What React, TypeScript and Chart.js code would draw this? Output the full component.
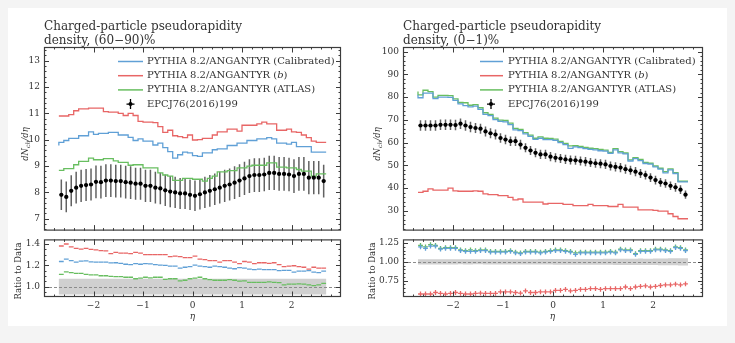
import React, { useEffect, useRef } from 'react';
import { Chart, registerables } from 'chart.js';

Chart.register(...registerables);

// ---------- data ----------
const EDGES = [-2.7, -2.6, -2.5, -2.4, -2.3, -2.2, -2.1, -2.0, -1.9, -1.8, -1.7, -1.6, -1.5, -1.4, -1.3, -1.2, -1.1, -1.0, -0.9, -0.8, -0.7, -0.6, -0.5, -0.4, -0.3, -0.2, -0.1, 0, 0.1, 0.2, 0.3, 0.4, 0.5, 0.6, 0.7, 0.8, 0.9, 1.0, 1.1, 1.2, 1.3, 1.4, 1.5, 1.6, 1.7, 1.8, 1.9, 2.0, 2.1, 2.2, 2.3, 2.4, 2.5, 2.6, 2.7];

const X_TICKS = [-2, -1, 0, 1, 2];
const X_TICK_LABELS = ['\u22122', '\u22121', '0', '1', '2'];

// left: (60-90)%
const L_CALIB = [9.78, 9.90, 9.97, 10.05, 10.05, 10.15, 10.15, 10.30, 10.20, 10.24, 10.24, 10.28, 10.28, 10.18, 10.18, 10.09, 9.97, 10.03, 9.95, 9.95, 9.80, 9.87, 9.70, 9.55, 9.30, 9.43, 9.53, 9.50, 9.40, 9.37, 9.50, 9.50, 9.62, 9.65, 9.65, 9.78, 9.78, 9.87, 9.87, 9.97, 9.97, 10.03, 10.03, 10.08, 10.03, 9.87, 9.87, 9.83, 9.90, 9.74, 9.74, 9.74, 9.53, 9.53];
const L_B = [10.90, 10.90, 10.90, 10.95, 11.10, 11.17, 11.17, 11.20, 11.20, 11.20, 11.07, 11.05, 11.05, 11.00, 10.92, 11.00, 10.92, 10.70, 10.67, 10.67, 10.65, 10.50, 10.28, 10.36, 10.15, 10.12, 10.08, 10.18, 9.99, 10.00, 10.05, 10.05, 10.18, 10.30, 10.30, 10.40, 10.40, 10.33, 10.55, 10.55, 10.55, 10.60, 10.67, 10.60, 10.60, 10.36, 10.36, 10.40, 10.30, 10.28, 10.18, 10.08, 9.95, 9.90];
const L_ATLAS = [8.84, 8.84, 8.90, 8.90, 9.05, 9.18, 9.18, 9.30, 9.24, 9.24, 9.28, 9.28, 9.20, 9.14, 9.14, 9.03, 9.05, 9.05, 8.93, 8.93, 8.93, 8.74, 8.66, 8.62, 8.46, 8.46, 8.53, 8.53, 8.50, 8.50, 8.43, 8.53, 8.62, 8.78, 8.78, 8.83, 8.83, 8.93, 8.93, 9.00, 9.03, 9.03, 9.03, 9.12, 9.12, 8.96, 8.96, 8.93, 8.93, 8.87, 8.81, 8.81, 8.62, 8.70];
const L_DATA = [7.91, 7.83, 8.06, 8.18, 8.25, 8.28, 8.30, 8.40, 8.39, 8.45, 8.45, 8.43, 8.43, 8.39, 8.37, 8.33, 8.33, 8.25, 8.25, 8.18, 8.15, 8.08, 8.03, 8.00, 7.96, 7.96, 7.91, 7.87, 7.93, 8.00, 8.06, 8.12, 8.18, 8.25, 8.30, 8.37, 8.45, 8.53, 8.62, 8.66, 8.66, 8.68, 8.74, 8.74, 8.70, 8.70, 8.68, 8.62, 8.70, 8.70, 8.56, 8.56, 8.56, 8.43];
const L_ERR = [0.58, 0.58, 0.59, 0.60, 0.61, 0.61, 0.61, 0.62, 0.62, 0.62, 0.62, 0.62, 0.62, 0.62, 0.62, 0.61, 0.61, 0.61, 0.61, 0.60, 0.60, 0.60, 0.59, 0.59, 0.59, 0.59, 0.58, 0.58, 0.58, 0.59, 0.60, 0.60, 0.60, 0.61, 0.61, 0.62, 0.62, 0.63, 0.64, 0.64, 0.64, 0.64, 0.65, 0.65, 0.64, 0.64, 0.64, 0.64, 0.64, 0.64, 0.63, 0.63, 0.63, 0.62];
const L_R_CALIB = [1.236, 1.259, 1.244, 1.23, 1.239, 1.241, 1.233, 1.23, 1.23, 1.23, 1.222, 1.224, 1.219, 1.21, 1.207, 1.216, 1.21, 1.216, 1.213, 1.207, 1.202, 1.199, 1.193, 1.193, 1.173, 1.182, 1.188, 1.202, 1.193, 1.188, 1.182, 1.193, 1.188, 1.182, 1.173, 1.168, 1.179, 1.173, 1.165, 1.159, 1.165, 1.159, 1.159, 1.159, 1.151, 1.153, 1.153, 1.136, 1.145, 1.145, 1.151, 1.136, 1.131, 1.145];
const L_R_B = [1.381, 1.40, 1.372, 1.358, 1.352, 1.358, 1.349, 1.344, 1.338, 1.335, 1.31, 1.321, 1.315, 1.315, 1.31, 1.321, 1.315, 1.30, 1.30, 1.30, 1.30, 1.30, 1.281, 1.287, 1.281, 1.273, 1.273, 1.287, 1.259, 1.253, 1.244, 1.244, 1.23, 1.244, 1.244, 1.23, 1.216, 1.236, 1.23, 1.216, 1.224, 1.224, 1.219, 1.224, 1.207, 1.188, 1.193, 1.196, 1.188, 1.182, 1.165, 1.182, 1.173, 1.173];
const L_R_ATLAS = [1.116, 1.139, 1.131, 1.125, 1.125, 1.116, 1.111, 1.111, 1.102, 1.102, 1.097, 1.094, 1.094, 1.088, 1.088, 1.074, 1.08, 1.088, 1.082, 1.088, 1.088, 1.068, 1.074, 1.074, 1.054, 1.06, 1.074, 1.08, 1.088, 1.074, 1.065, 1.06, 1.06, 1.06, 1.065, 1.06, 1.051, 1.054, 1.04, 1.04, 1.04, 1.04, 1.045, 1.04, 1.037, 1.017, 1.023, 1.023, 1.026, 1.023, 1.017, 1.009, 1.017, 1.031];

// right: (0-1)%
const R_CALIB = [81.0, 79.7, 81.7, 81.7, 79.3, 80.0, 80.0, 79.9, 78.5, 77.0, 76.2, 75.7, 76.0, 74.6, 72.4, 71.8, 70.1, 69.3, 69.1, 67.9, 65.6, 65.2, 63.8, 62.7, 61.4, 61.9, 61.3, 61.3, 61.0, 60.0, 59.1, 57.4, 58.1, 57.8, 57.3, 57.0, 56.8, 56.4, 56.2, 55.2, 56.8, 55.5, 55.0, 51.9, 52.9, 52.1, 50.8, 50.5, 49.3, 48.3, 46.7, 48.0, 46.4, 42.7];
const R_B = [38.1, 38.1, 38.6, 39.6, 39.1, 39.1, 39.1, 40.0, 38.8, 38.6, 38.6, 38.6, 38.8, 38.6, 37.4, 37.1, 37.1, 36.7, 36.7, 35.9, 34.8, 35.2, 33.8, 33.8, 33.8, 33.8, 33.0, 33.3, 33.3, 33.3, 32.8, 32.8, 32.3, 32.3, 32.3, 32.8, 32.3, 32.3, 32.3, 31.9, 31.9, 32.8, 31.6, 31.6, 31.6, 30.4, 30.4, 30.4, 30.2, 29.9, 29.9, 28.7, 27.5, 26.5];
const R_ATLAS = [82.4, 81.0, 83.0, 82.4, 80.0, 80.7, 80.7, 80.6, 79.2, 77.6, 77.5, 76.4, 76.7, 75.3, 73.1, 72.4, 70.7, 69.9, 69.7, 68.5, 66.2, 65.8, 64.4, 63.3, 61.9, 62.5, 61.9, 61.8, 61.5, 60.5, 59.6, 58.5, 58.6, 58.3, 57.9, 57.5, 57.3, 57.0, 56.7, 55.7, 57.3, 56.0, 55.4, 52.4, 53.4, 52.6, 51.3, 50.9, 49.7, 48.7, 47.2, 48.4, 46.8, 43.0];
const R_DATA = [67.5, 67.5, 67.5, 67.5, 67.8, 67.8, 67.8, 67.7, 68.3, 67.5, 66.8, 66.4, 66.1, 64.9, 64.1, 63.5, 62.0, 61.3, 60.6, 60.6, 59.1, 57.7, 56.5, 55.5, 54.8, 54.8, 53.8, 53.3, 53.0, 52.6, 52.3, 52.2, 51.9, 51.6, 51.2, 50.9, 50.7, 50.4, 49.7, 49.3, 49.0, 48.3, 47.8, 47.2, 46.4, 45.7, 44.6, 43.5, 42.5, 42.0, 41.0, 40.3, 39.3, 37.1];
const R_ERR = [2.3, 2.3, 2.3, 2.3, 2.3, 2.3, 2.3, 2.3, 2.3, 2.3, 2.3, 2.2, 2.2, 2.2, 2.2, 2.2, 2.1, 2.1, 2.1, 2.1, 2.1, 2.0, 2.0, 2.0, 2.0, 2.0, 2.0, 2.0, 2.0, 2.0, 2.0, 2.0, 2.0, 2.0, 2.0, 2.0, 2.0, 2.0, 2.0, 2.0, 2.0, 2.0, 2.0, 2.0, 2.0, 1.9, 1.9, 1.9, 1.9, 1.9, 1.9, 1.9, 1.9, 1.8];
const R_R_CALIB = [1.20, 1.18, 1.21, 1.21, 1.17, 1.18, 1.18, 1.18, 1.15, 1.14, 1.14, 1.14, 1.15, 1.15, 1.13, 1.13, 1.13, 1.13, 1.14, 1.12, 1.11, 1.13, 1.13, 1.13, 1.12, 1.13, 1.14, 1.15, 1.15, 1.14, 1.13, 1.10, 1.12, 1.12, 1.12, 1.12, 1.12, 1.12, 1.13, 1.12, 1.16, 1.15, 1.15, 1.10, 1.14, 1.14, 1.14, 1.16, 1.16, 1.15, 1.14, 1.19, 1.18, 1.15];
const R_R_B = [0.570, 0.570, 0.570, 0.590, 0.578, 0.570, 0.578, 0.590, 0.578, 0.570, 0.570, 0.578, 0.582, 0.578, 0.578, 0.578, 0.598, 0.598, 0.598, 0.590, 0.582, 0.611, 0.590, 0.590, 0.598, 0.598, 0.598, 0.619, 0.619, 0.631, 0.611, 0.619, 0.631, 0.631, 0.643, 0.643, 0.631, 0.643, 0.643, 0.643, 0.643, 0.664, 0.643, 0.664, 0.672, 0.680, 0.664, 0.672, 0.684, 0.693, 0.693, 0.701, 0.693, 0.705];
const R_R_ATLAS = [1.22, 1.20, 1.23, 1.22, 1.18, 1.19, 1.19, 1.19, 1.16, 1.15, 1.16, 1.15, 1.16, 1.16, 1.14, 1.14, 1.14, 1.14, 1.15, 1.13, 1.12, 1.14, 1.14, 1.14, 1.13, 1.14, 1.15, 1.16, 1.16, 1.15, 1.14, 1.12, 1.13, 1.13, 1.13, 1.13, 1.13, 1.13, 1.14, 1.13, 1.17, 1.16, 1.16, 1.11, 1.15, 1.15, 1.15, 1.17, 1.17, 1.16, 1.15, 1.20, 1.19, 1.16];

const L_Y_TICKS = [7, 8, 9, 10, 11, 12, 13];
const L_Y_TICK_LABELS = ['7', '8', '9', '10', '11', '12', '13'];
const L_RY_TICKS = [1.0, 1.2, 1.4];
const L_RY_TICK_LABELS = ['1.0', '1.2', '1.4'];
const R_Y_TICKS = [30, 40, 50, 60, 70, 80, 90, 100];
const R_Y_TICK_LABELS = ['30', '40', '50', '60', '70', '80', '90', '100'];
const R_RY_TICKS = [0.75, 1.0, 1.25];
const R_RY_TICK_LABELS = ['0.75', '1.00', '1.25'];

const TITLE_L = ['Charged-particle pseudorapidity', 'density, (60\u221290)%'];
const TITLE_R = ['Charged-particle pseudorapidity', 'density, (0\u22121)%'];
const LEG_MODEL = 'PYTHIA 8.2/ANGANTYR';
const LEG_DATA = 'EPCJ76(2016)199';

// ---------- styles ----------
const SERIF = '"DejaVu Serif", serif';
const TXT = '#333333';
const FRAME = '#3c3c3c';
const C_CALIB = 'rgb(96,160,214)';
const C_B = 'rgb(232,102,102)';
const C_ATLAS = 'rgb(104,190,96)';

type Seg = { t: string; it?: boolean; sub?: boolean };

function drawSegs(ctx: CanvasRenderingContext2D, segs: Seg[], x: number, y: number, size: number, align: string, family = SERIF) {
  let w = 0;
  const parts = segs.map((s) => {
    const fs = s.sub ? size * 0.72 : size;
    const font = `${s.it ? 'italic ' : ''}${fs}px ${family}`;
    ctx.font = font;
    const mw = ctx.measureText(s.t).width;
    w += mw;
    return { s, font, mw };
  });
  let cx = align === 'center' ? x - w / 2 : align === 'right' ? x - w : x;
  ctx.textAlign = 'left';
  ctx.textBaseline = 'middle';
  for (const p of parts) {
    ctx.font = p.font;
    ctx.fillText(p.s.t, cx, y + (p.s.sub ? size * 0.28 : 0));
    cx += p.mw;
  }
}

function steps(a: number, b: number, n: number) {
  const out: number[] = [];
  for (let i = 0; i <= n; i++) out.push(a + ((b - a) * i) / n);
  return out;
}

const decorPlugin: any = {
  id: 'decor',
  beforeDatasetsDraw(chart: any, _a: any, o: any) {
    const { ctx, chartArea: a } = chart;
    const xs = chart.scales.x;
    const ys = chart.scales.y;
    ctx.save();
    ctx.beginPath();
    ctx.rect(a.left, a.top, a.right - a.left, a.bottom - a.top);
    ctx.clip();
    if (o.band) {
      const { lo, hi, color } = o.band;
      ctx.beginPath();
      for (let i = 0; i < hi.length; i++) {
        const x0 = xs.getPixelForValue(EDGES[i]);
        const x1 = xs.getPixelForValue(EDGES[i + 1]);
        const y = ys.getPixelForValue(hi[i]);
        if (i === 0) ctx.moveTo(x0, y);
        else ctx.lineTo(x0, y);
        ctx.lineTo(x1, y);
      }
      for (let i = lo.length - 1; i >= 0; i--) {
        const x0 = xs.getPixelForValue(EDGES[i]);
        const x1 = xs.getPixelForValue(EDGES[i + 1]);
        const y = ys.getPixelForValue(lo[i]);
        ctx.lineTo(x1, y);
        ctx.lineTo(x0, y);
      }
      ctx.closePath();
      ctx.fillStyle = color;
      ctx.fill();
    }
    if (o.refLine != null) {
      const y = Math.round(ys.getPixelForValue(o.refLine)) + 0.5;
      ctx.setLineDash([3, 2]);
      ctx.strokeStyle = '#8c8c8c';
      ctx.lineWidth = 1;
      ctx.beginPath();
      ctx.moveTo(a.left, y);
      ctx.lineTo(a.right, y);
      ctx.stroke();
      ctx.setLineDash([]);
    }
    if (o.errors) {
      const { vals, err, color, width } = o.errors;
      ctx.strokeStyle = color;
      ctx.lineWidth = width;
      ctx.beginPath();
      for (let i = 0; i < vals.length; i++) {
        const x0 = xs.getPixelForValue(EDGES[i]);
        const x1 = xs.getPixelForValue(EDGES[i + 1]);
        const xc = (x0 + x1) / 2;
        ctx.moveTo(xc, ys.getPixelForValue(vals[i] - err[i]));
        ctx.lineTo(xc, ys.getPixelForValue(vals[i] + err[i]));
        const y = ys.getPixelForValue(vals[i]);
        ctx.moveTo(x0 + 0.6, y);
        ctx.lineTo(x1 - 0.6, y);
      }
      ctx.stroke();
    }
    ctx.restore();
  },
  afterDraw(chart: any, _a: any, o: any) {
    const { ctx, chartArea: a } = chart;
    const xs = chart.scales.x;
    const ys = chart.scales.y;
    ctx.save();
    // ticks (inward, all four sides)
    ctx.strokeStyle = FRAME;
    ctx.lineWidth = 1;
    ctx.beginPath();
    const vt = (v: number, len: number) => {
      const x = Math.round(xs.getPixelForValue(v)) + 0.5;
      if (x < a.left + 1 || x > a.right - 1) return;
      ctx.moveTo(x, a.top);
      ctx.lineTo(x, a.top + len);
      ctx.moveTo(x, a.bottom);
      ctx.lineTo(x, a.bottom - len);
    };
    const ht = (v: number, len: number) => {
      const y = Math.round(ys.getPixelForValue(v)) + 0.5;
      if (y < a.top + 1 || y > a.bottom - 1) return;
      ctx.moveTo(a.left, y);
      ctx.lineTo(a.left + len, y);
      ctx.moveTo(a.right, y);
      ctx.lineTo(a.right - len, y);
    };
    o.xMinor.forEach((v: number) => vt(v, 2.5));
    o.xMajor.forEach((v: number) => vt(v, 5.5));
    o.yMinor.forEach((v: number) => ht(v, 2.5));
    o.yMajor.forEach((v: number) => ht(v, 5));
    ctx.stroke();
    // frame
    ctx.lineWidth = 1.2;
    ctx.strokeRect(a.left + 0.5, a.top + 0.5, a.right - a.left - 1, a.bottom - a.top - 1);
    // texts
    ctx.fillStyle = TXT;
    (o.texts || []).forEach((t: any) => {
      ctx.save();
      ctx.translate(t.x, t.y);
      if (t.rot) ctx.rotate(-Math.PI / 2);
      drawSegs(ctx, t.segs, 0, 0, t.size, t.align || 'left', t.family || SERIF);
      ctx.restore();
    });
    // legend
    if (o.legend) {
      const L = o.legend;
      L.items.forEach((it: any, k: number) => {
        const y = L.y0 + L.dy * k;
        if (it.kind === 'line') {
          ctx.strokeStyle = it.color;
          ctx.lineWidth = 1.5;
          ctx.beginPath();
          ctx.moveTo(L.lineX0, y);
          ctx.lineTo(L.lineX1, y);
          ctx.stroke();
        } else {
          ctx.strokeStyle = '#000';
          ctx.lineWidth = 1.3;
          ctx.beginPath();
          ctx.moveTo(L.markX, y - 5);
          ctx.lineTo(L.markX, y + 5);
          ctx.moveTo(L.markX - 4, y);
          ctx.lineTo(L.markX + 4, y);
          ctx.stroke();
          ctx.fillStyle = '#000';
          ctx.beginPath();
          ctx.arc(L.markX, y, 2, 0, Math.PI * 2);
          ctx.fill();
        }
        ctx.fillStyle = TXT;
        drawSegs(ctx, it.segs, L.textX, y, L.size, 'left');
      });
    }
    ctx.restore();
  },
};

const histData = (vals: number[]) => EDGES.map((x, i) => ({ x, y: vals[Math.min(i, vals.length - 1)] }));
const pointData = (vals: number[]) => vals.map((y, i) => ({ x: (EDGES[i] + EDGES[i + 1]) / 2, y }));

function mainConfig(o: any) {
  const datasets: any[] = [
    {
      data: pointData(o.data),
      showLine: false,
      pointRadius: 2.1,
      pointBackgroundColor: '#000',
      pointBorderWidth: 0,
    },
    ...o.series.map((s: any) => ({
      data: histData(s.vals),
      stepped: 'after',
      borderColor: s.color,
      borderWidth: 1.3,
      pointRadius: 0,
      fill: false,
    })),
  ];
  return {
    type: 'line',
    data: { datasets },
    options: {
      animation: false,
      responsive: false,
      devicePixelRatio: 1,
      events: [],
      layout: { padding: { left: 0, top: o.area.top, right: o.cw - o.area.right, bottom: o.ch - o.area.bottom } },
      plugins: {
        legend: { display: false },
        tooltip: { enabled: false },
        decor: {
          errors: { vals: o.data, err: o.err, color: o.errColor, width: o.errWidth },
          xMajor: X_TICKS,
          xMinor: steps(-3, 3, 30),
          yMajor: o.yTicks,
          yMinor: o.yMinor,
          texts: o.texts,
          legend: o.legend,
        },
      },
      scales: {
        x: { type: 'linear', min: -3, max: 3, display: false },
        y: {
          type: 'linear',
          min: o.yMin,
          max: o.yMax,
          afterFit: (s: any) => {
            s.width = o.area.left;
          },
          afterBuildTicks: (s: any) => {
            s.ticks = o.yTicks.map((v: number) => ({ value: v }));
          },
          grid: { display: false, drawTicks: false },
          border: { display: false },
          ticks: {
            padding: 4,
            font: { family: SERIF, size: 9 },
            color: TXT,
            autoSkip: false,
            callback: (_v: any, i: number) => o.yTickLabels[i],
          },
        },
      },
    },
    plugins: [decorPlugin],
  };
}

function ratioConfig(o: any) {
  const datasets: any[] = o.series.map((s: any) => ({
    data: pointData(s.vals),
    showLine: false,
    pointStyle: o.pointStyle,
    pointRadius: 2.4,
    pointBorderColor: s.color,
    pointBackgroundColor: s.color,
    pointBorderWidth: 1.3,
  }));
  return {
    type: 'line',
    data: { datasets },
    options: {
      animation: false,
      responsive: false,
      devicePixelRatio: 1,
      events: [],
      layout: { padding: { left: 0, top: o.area.top, right: o.cw - o.area.right, bottom: 0 } },
      plugins: {
        legend: { display: false },
        tooltip: { enabled: false },
        decor: {
          band: {
            lo: o.data.map((d: number, i: number) => 1 - o.err[i] / d),
            hi: o.data.map((d: number, i: number) => 1 + o.err[i] / d),
            color: 'rgb(208,208,208)',
          },
          refLine: 1,
          xMajor: X_TICKS,
          xMinor: steps(-3, 3, 30),
          yMajor: o.yTicks,
          yMinor: o.yMinor,
          texts: o.texts,
        },
      },
      scales: {
        x: {
          type: 'linear',
          min: -3,
          max: 3,
          afterFit: (s: any) => {
            s.height = o.ch - o.area.bottom;
          },
          afterBuildTicks: (s: any) => {
            s.ticks = X_TICKS.map((v) => ({ value: v }));
          },
          grid: { display: false, drawTicks: false },
          border: { display: false },
          ticks: {
            padding: 3,
            maxRotation: 0,
            autoSkip: false,
            font: { family: SERIF, size: 9 },
            color: TXT,
            callback: (_v: any, i: number) => X_TICK_LABELS[i],
          },
        },
        y: {
          type: 'linear',
          min: o.yMin,
          max: o.yMax,
          afterFit: (s: any) => {
            s.width = o.area.left;
          },
          afterBuildTicks: (s: any) => {
            s.ticks = o.yTicks.map((v: number) => ({ value: v }));
          },
          grid: { display: false, drawTicks: false },
          border: { display: false },
          ticks: {
            padding: 4,
            autoSkip: false,
            font: { family: SERIF, size: 9 },
            color: TXT,
            callback: (_v: any, i: number) => o.yTickLabels[i],
          },
        },
      },
    },
    plugins: [decorPlugin],
  };
}

const legendItems = [
  { kind: 'line', color: C_CALIB, segs: [{ t: LEG_MODEL + ' (Calibrated)' }] },
  { kind: 'line', color: C_B, segs: [{ t: LEG_MODEL + ' (' }, { t: 'b', it: true }, { t: ')' }] },
  { kind: 'line', color: C_ATLAS, segs: [{ t: LEG_MODEL + ' (ATLAS)' }] },
  { kind: 'data', segs: [{ t: LEG_DATA }] },
];

const dndeta: Seg[] = [{ t: 'dN', it: true }, { t: 'ch', it: true, sub: true }, { t: '/d\u03b7', it: true }];

// right canvases start at page x = RX
const RX = 352;

export default function App() {
  const c1 = useRef<HTMLCanvasElement>(null);
  const c2 = useRef<HTMLCanvasElement>(null);
  const c3 = useRef<HTMLCanvasElement>(null);
  const c4 = useRef<HTMLCanvasElement>(null);

  useEffect(() => {
    const charts: Chart[] = [];
    const rw = 735 - RX;
    // left main
    charts.push(
      new Chart(c1.current as any, mainConfig({
        cw: 352, ch: 240,
        area: { left: 44, top: 47, right: 341, bottom: 234 },
        data: L_DATA, err: L_ERR, errColor: 'rgba(70,70,70,0.85)', errWidth: 1.5,
        series: [
          { vals: L_CALIB, color: C_CALIB },
          { vals: L_B, color: C_B },
          { vals: L_ATLAS, color: C_ATLAS },
        ],
        yMin: 6.55, yMax: 13.52, yTicks: L_Y_TICKS, yTickLabels: L_Y_TICK_LABELS,
        yMinor: steps(6.6, 13.4, 34),
        texts: [
          { segs: [{ t: TITLE_L[0] }], x: 44, y: 27, size: 12 },
          { segs: [{ t: TITLE_L[1] }], x: 44, y: 41, size: 12 },
          { segs: dndeta, x: 26, y: 144, size: 8.5, rot: true, align: 'center' },
        ],
        legend: { items: legendItems, y0: 61.5, dy: 14.2, lineX0: 118, lineX1: 143, markX: 130.5, textX: 147, size: 10 },
      }) as any)
    );
    // left ratio
    charts.push(
      new Chart(c2.current as any, ratioConfig({
        cw: 352, ch: 113,
        area: { left: 44, top: 4, right: 341, bottom: 67 },
        data: L_DATA, err: L_ERR,
        series: [
          { vals: L_R_CALIB, color: C_CALIB },
          { vals: L_R_B, color: C_B },
          { vals: L_R_ATLAS, color: C_ATLAS },
        ],
        pointStyle: 'line',
        yMin: 0.903, yMax: 1.443, yTicks: L_RY_TICKS, yTickLabels: L_RY_TICK_LABELS,
        yMinor: steps(0.95, 1.4, 9),
        texts: [
          { segs: [{ t: 'Ratio to Data' }], x: 19, y: 41, size: 8.5, rot: true, align: 'center' },
          { segs: [{ t: '\u03b7', it: true }], x: 192.5, y: 87, size: 9, align: 'center' },
        ],
      }) as any)
    );
    // right main
    charts.push(
      new Chart(c3.current as any, mainConfig({
        cw: rw, ch: 240,
        area: { left: 403 - RX, top: 47, right: 703 - RX, bottom: 234 },
        data: R_DATA, err: R_ERR, errColor: 'rgba(70,70,70,0.85)', errWidth: 1.5,
        series: [
          { vals: R_CALIB, color: C_CALIB },
          { vals: R_B, color: C_B },
          { vals: R_ATLAS, color: C_ATLAS },
        ],
        yMin: 21.3, yMax: 102, yTicks: R_Y_TICKS, yTickLabels: R_Y_TICK_LABELS,
        yMinor: steps(22, 102, 40),
        texts: [
          { segs: [{ t: TITLE_R[0] }], x: 403 - RX, y: 27, size: 12 },
          { segs: [{ t: TITLE_R[1] }], x: 403 - RX, y: 41, size: 12 },
          { segs: dndeta, x: 378 - RX, y: 144, size: 8.5, rot: true, align: 'center' },
        ],
        legend: { items: legendItems, y0: 61.5, dy: 14.2, lineX0: 480 - RX, lineX1: 503 - RX, markX: 491 - RX, textX: 508 - RX, size: 10 },
      }) as any)
    );
    // right ratio
    charts.push(
      new Chart(c4.current as any, ratioConfig({
        cw: rw, ch: 113,
        area: { left: 403 - RX, top: 4, right: 703 - RX, bottom: 67 },
        data: R_DATA, err: R_ERR,
        series: [
          { vals: R_R_CALIB, color: C_CALIB },
          { vals: R_R_B, color: C_B },
          { vals: R_R_ATLAS, color: C_ATLAS },
        ],
        pointStyle: 'cross',
        yMin: 0.53, yMax: 1.30, yTicks: R_RY_TICKS, yTickLabels: R_RY_TICK_LABELS,
        yMinor: steps(0.55, 1.3, 15),
        texts: [
          { segs: [{ t: 'Ratio to Data' }], x: 373 - RX, y: 41, size: 8.5, rot: true, align: 'center' },
          { segs: [{ t: '\u03b7', it: true }], x: 552.5 - RX, y: 87, size: 9, align: 'center' },
        ],
      }) as any)
    );
    return () => charts.forEach((c) => c.destroy());
  }, []);

  const cv = (left: number, top: number, w: number, h: number): React.CSSProperties => ({
    position: 'absolute', left, top, width: w, height: h,
  });

  return (
    <div style={{ position: 'absolute', left: 0, top: 0, width: 735, height: 343, background: '#f4f4f4', overflow: 'hidden' }}>
      <div style={{ position: 'absolute', left: 8, top: 8, width: 719, height: 318, background: '#ffffff' }} />
      <canvas ref={c1} width={352} height={240} style={cv(0, 0, 352, 240)} />
      <canvas ref={c2} width={352} height={113} style={cv(0, 230, 352, 113)} />
      <canvas ref={c3} width={735 - RX} height={240} style={cv(RX, 0, 735 - RX, 240)} />
      <canvas ref={c4} width={735 - RX} height={113} style={cv(RX, 230, 735 - RX, 113)} />
    </div>
  );
}
